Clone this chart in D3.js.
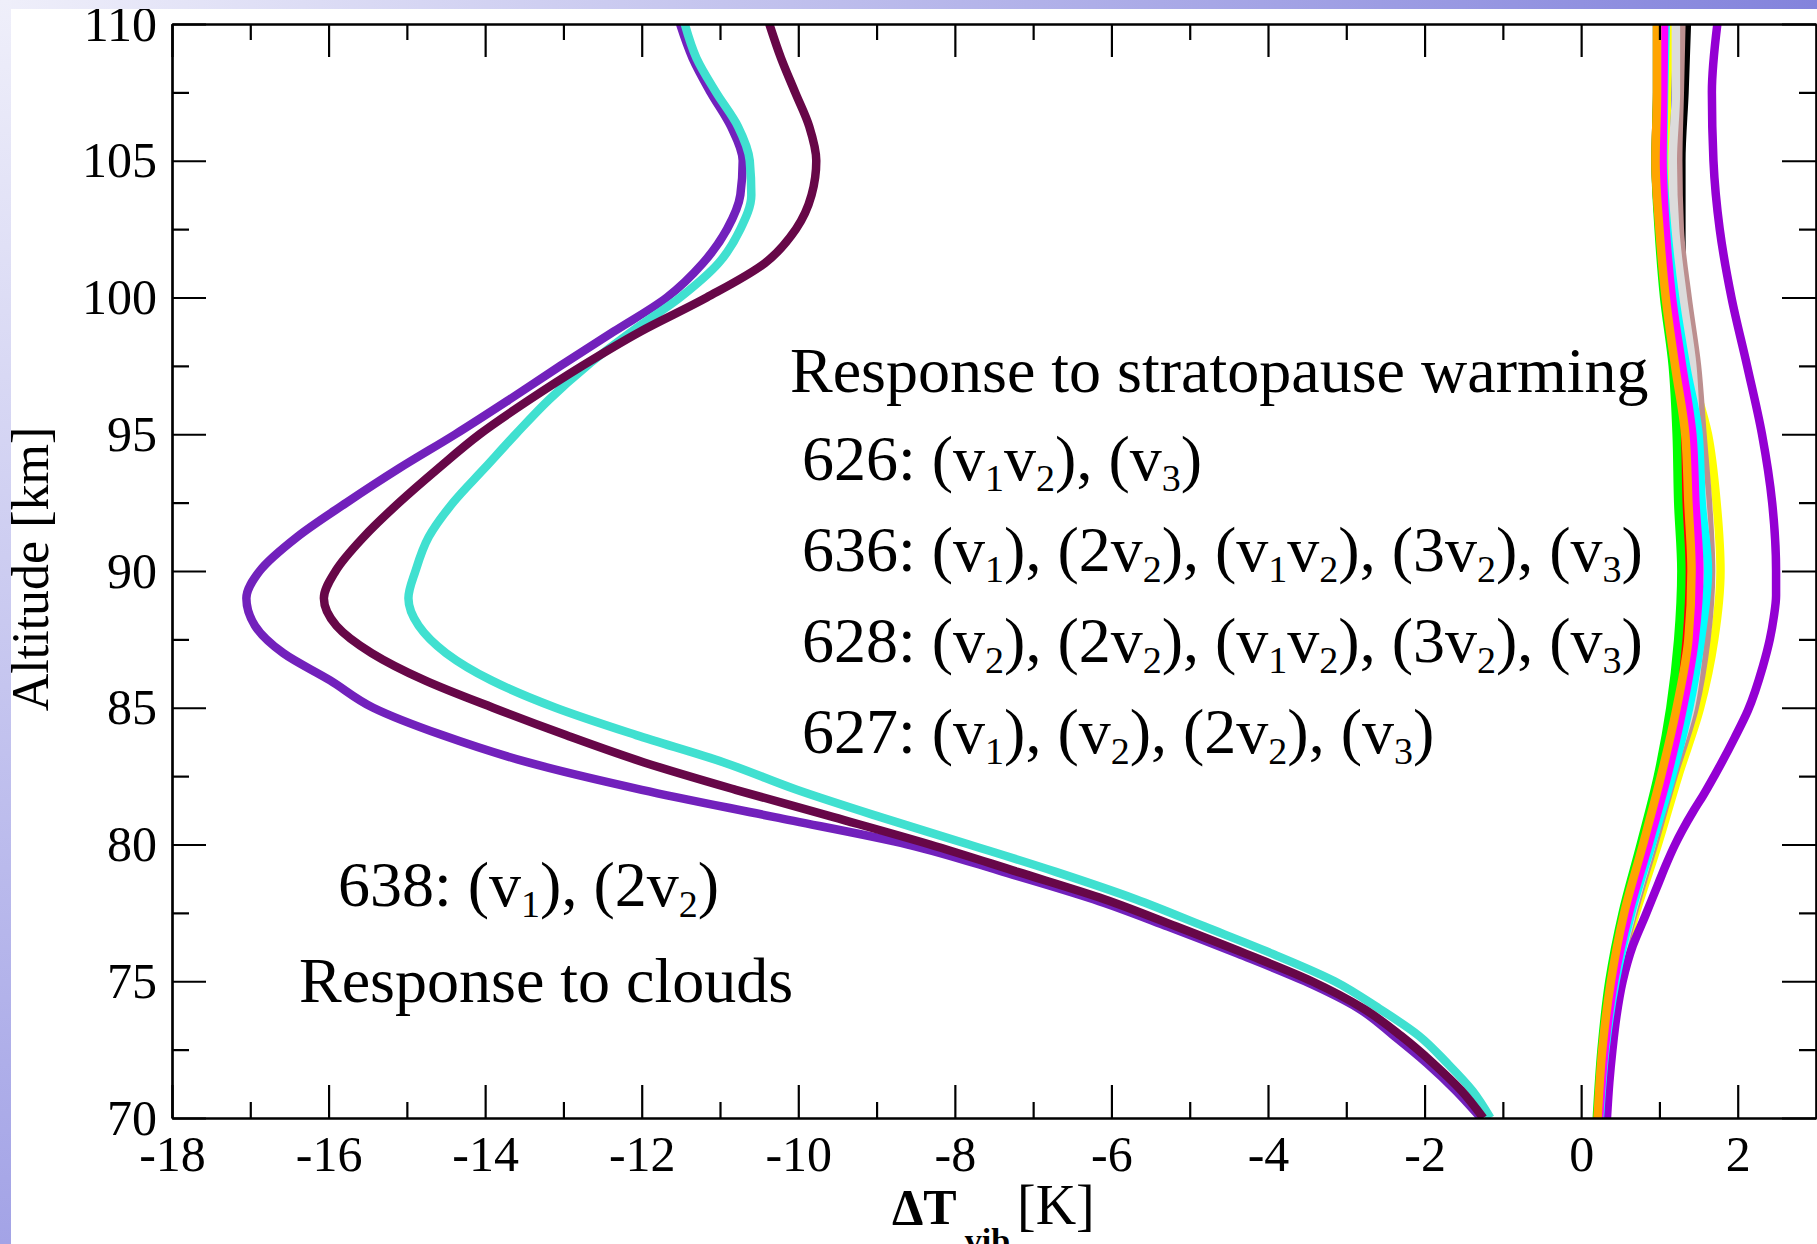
<!DOCTYPE html>
<html>
<head>
<meta charset="utf-8">
<script src="https://cdn.jsdelivr.net/npm/d3@7"></script>
<style>
  html, body { margin: 0; padding: 0; background: #fff; }
  svg { display: block; }
  text { font-family: "Liberation Serif", "Times New Roman", serif; fill: #000; }
</style>
</head>
<body>
<svg id="chart" width="1817" height="1244"></svg>
<script>
// ---- Response to clouds (638 bands): altitude grid in km and ΔT_vib in K ----
const altClouds = [70, 71, 72, 73, 74, 75, 76, 77, 78, 79, 80, 81, 82, 83, 84, 85, 86, 87, 88, 89,
                   90, 91.25, 92.5, 93.75, 95, 96.25, 97.5, 98.75, 100, 101.25, 102.5, 103.75,
                   105, 106.25, 107.5, 108.75, 110];
const dtIndigo = [-1.28, -1.60, -1.97, -2.39, -2.84, -3.53, -4.38, -5.28, -6.23, -7.38, -8.60, -10.30,
                  -12.00, -13.45, -14.55, -15.43, -15.98, -16.58, -16.94, -17.05, -16.88, -16.40,
                  -15.77, -15.10, -14.38, -13.70, -13.04, -12.36, -11.68, -11.22, -10.91, -10.74,
                  -10.71, -10.86, -11.12, -11.35, -11.51];
const dtMaroon = [-1.25, -1.53, -1.89, -2.30, -2.78, -3.44, -4.28, -5.17, -6.09, -7.20, -8.32, -9.55,
                  -10.80, -11.97, -12.97, -13.90, -14.77, -15.45, -15.90, -16.06, -15.91, -15.55,
                  -15.10, -14.60, -14.07, -13.44, -12.76, -12.02, -11.17, -10.43, -10.03, -9.83,
                  -9.77, -9.86, -10.04, -10.22, -10.37];
const dtTurquoise = [-1.16, -1.39, -1.71, -2.07, -2.58, -3.15, -3.94, -4.81, -5.69, -6.71, -7.82, -8.95,
                     -10.02, -10.95, -12.07, -13.10, -13.92, -14.50, -14.85, -14.98, -14.89, -14.72,
                     -14.41, -14.01, -13.61, -13.19, -12.70, -12.13, -11.51, -11.02, -10.74, -10.60,
                     -10.62, -10.77, -11.05, -11.30, -11.45];

// ---- Response to stratopause warming (626, 636, 628, 627 bands) ----
const altWarming = [70, 72.5, 75, 77.5, 80, 82.5, 85, 87.5, 90, 92.5, 95, 97.5, 100, 102.5, 105, 107.5, 110];
const dtBlack   = [0.24, 0.32, 0.46, 0.68, 0.95, 1.15, 1.42, 1.55, 1.62, 1.58, 1.50, 1.40, 1.30, 1.28, 1.28, 1.32, 1.35];
const dtRed     = [0.21, 0.27, 0.37, 0.54, 0.78, 1.00, 1.19, 1.33, 1.37, 1.33, 1.29, 1.19, 1.07, 1.00, 0.95, 0.97, 0.97];
const dtGreen   = [0.20, 0.26, 0.36, 0.53, 0.76, 0.98, 1.14, 1.24, 1.28, 1.24, 1.22, 1.17, 1.06, 0.99, 0.95, 0.97, 0.97];
const dtBlue    = [0.22, 0.29, 0.41, 0.60, 0.85, 1.08, 1.27, 1.42, 1.48, 1.44, 1.38, 1.28, 1.18, 1.12, 1.12, 1.14, 1.15];
const dtYellow  = [0.24, 0.32, 0.46, 0.70, 0.98, 1.24, 1.52, 1.70, 1.78, 1.73, 1.62, 1.38, 1.20, 1.10, 1.08, 1.10, 1.12];
const dtBrown   = [0.24, 0.32, 0.45, 0.67, 0.93, 1.18, 1.45, 1.60, 1.66, 1.62, 1.55, 1.48, 1.36, 1.26, 1.24, 1.26, 1.28];
const dtGrey    = [0.24, 0.31, 0.44, 0.65, 0.90, 1.14, 1.40, 1.52, 1.60, 1.55, 1.47, 1.42, 1.30, 1.20, 1.17, 1.21, 1.21];
const dtCyan    = [0.24, 0.31, 0.44, 0.64, 0.90, 1.16, 1.38, 1.53, 1.62, 1.54, 1.50, 1.34, 1.20, 1.10, 1.05, 1.06, 1.08];
const dtMagenta = [0.23, 0.30, 0.42, 0.61, 0.86, 1.10, 1.30, 1.45, 1.51, 1.46, 1.42, 1.29, 1.16, 1.08, 1.04, 1.05, 1.06];
const dtOrange  = [0.21, 0.27, 0.38, 0.55, 0.79, 1.02, 1.22, 1.37, 1.41, 1.37, 1.33, 1.20, 1.08, 1.00, 0.95, 0.97, 0.97];
const altViolet = [70, 71.3, 72.5, 73.7, 75, 76.3, 77.4, 78.6, 79.3, 80, 80.5, 81.25, 81.8, 82.5, 83.9,
                   84.9, 86.5, 87.5, 88.3, 89.1, 90, 92.5, 95, 97.5, 100, 102.5, 105, 107.5, 110];
const dtViolet  = [0.33, 0.36, 0.40, 0.45, 0.53, 0.66, 0.82, 0.99, 1.09, 1.20, 1.29, 1.44, 1.56, 1.70, 1.96,
                   2.13, 2.32, 2.41, 2.46, 2.49, 2.49, 2.44, 2.31, 2.12, 1.92, 1.77, 1.69, 1.67, 1.74];

// ---- axes ----
const xMajorTicks = [-18, -16, -14, -12, -10, -8, -6, -4, -2, 0, 2];
const xMinorTicks = [-17, -15, -13, -11, -9, -7, -5, -3, -1, 1];
const yMajorTicks = [70, 75, 80, 85, 90, 95, 100, 105, 110];
const yMinorTicks = [72.5, 77.5, 82.5, 87.5, 92.5, 97.5, 102.5, 107.5];

// ---- annotation texts ("_d" marks a subscript digit) ----
const warmingTitle = "Response to stratopause warming";
const warmingBands = ["626: (v_1v_2), (v_3)",
                      "636: (v_1), (2v_2), (v_1v_2), (3v_2), (v_3)",
                      "628: (v_2), (2v_2), (v_1v_2), (3v_2), (v_3)",
                      "627: (v_1), (v_2), (2v_2), (v_3)"];
const cloudBands = "638: (v_1), (2v_2)";
const cloudTitle = "Response to clouds";

// series in drawing order (later ones on top)
const series = [
  { alt: altWarming, dt: dtBlack,   color: "#000000" },
  { alt: altWarming, dt: dtRed,     color: "#ff0000" },
  { alt: altWarming, dt: dtGreen,   color: "#00ff00" },
  { alt: altWarming, dt: dtBlue,    color: "#0000ff" },
  { alt: altWarming, dt: dtYellow,  color: "#ffff00" },
  { alt: altWarming, dt: dtBrown,   color: "#bc8f8f" },
  { alt: altWarming, dt: dtGrey,    color: "#dcdcdc" },
  { alt: altViolet,  dt: dtViolet,  color: "#9400d3" },
  { alt: altWarming, dt: dtCyan,    color: "#00ffff" },
  { alt: altWarming, dt: dtMagenta, color: "#ff00ff" },
  { alt: altWarming, dt: dtOrange,  color: "#ffa500" },
  { alt: altClouds,  dt: dtIndigo,    color: "#7221bc" },
  { alt: altClouds,  dt: dtTurquoise, color: "#40e0d0" },
  { alt: altClouds,  dt: dtMaroon,    color: "#670748" }
];

const W = 1817, H = 1244;
const plot = { left: 172, right: 1816, top: 24, bottom: 1118 };

const svg = d3.select("#chart");

// slide page behind the chart
svg.append("rect").attr("width", W).attr("height", H).attr("fill", "#ffffff");

const x = d3.scaleLinear().domain([-18, 3]).range([plot.left, plot.right]);
const y = d3.scaleLinear().domain([70, 110]).range([plot.bottom, plot.top]);

const defs = svg.append("defs");
defs.append("clipPath").attr("id", "plotClip")
  .append("rect")
  .attr("x", plot.left).attr("y", plot.top)
  .attr("width", plot.right - plot.left).attr("height", plot.bottom - plot.top);

// profiles: ΔT as a smooth function of altitude
const line = d3.line()
  .x(d => x(d[0]))
  .y(d => y(d[1]))
  .curve(d3.curveMonotoneY);

const gLines = svg.append("g").attr("clip-path", "url(#plotClip)");
series.forEach(s => {
  gLines.append("path")
    .datum(s.dt.map((v, i) => [v, s.alt[i]]))
    .attr("d", line)
    .attr("fill", "none")
    .attr("stroke", s.color)
    .attr("stroke-width", 8.5)
    .attr("stroke-linejoin", "round");
});

// axes with inward ticks on all four sides
const majorX = 33, minorX = 16, majorY = 34, minorY = 17;
const tickFont = 50;

function styleAxis(g) {
  g.select(".domain").attr("stroke", "#000").attr("stroke-width", 2.2);
  g.selectAll(".tick line").attr("stroke", "#000").attr("stroke-width", 2.2);
  g.selectAll(".tick text")
    .attr("font-family", "Liberation Serif, Times New Roman, serif")
    .attr("font-size", tickFont)
    .attr("fill", "#000");
}

svg.append("g").attr("transform", `translate(0,${plot.bottom})`)
  .call(d3.axisBottom(x).tickValues(xMajorTicks).tickSize(-majorX).tickSizeOuter(0)
        .tickPadding(17).tickFormat(d => String(d)))
  .call(styleAxis);
svg.append("g").attr("transform", `translate(0,${plot.bottom})`)
  .call(d3.axisBottom(x).tickValues(xMinorTicks).tickSize(-minorX).tickSizeOuter(0).tickFormat(""))
  .call(styleAxis);

svg.append("g").attr("transform", `translate(0,${plot.top})`)
  .call(d3.axisTop(x).tickValues(xMajorTicks).tickSize(-majorX).tickSizeOuter(0).tickFormat(""))
  .call(styleAxis);
svg.append("g").attr("transform", `translate(0,${plot.top})`)
  .call(d3.axisTop(x).tickValues(xMinorTicks).tickSize(-minorX).tickSizeOuter(0).tickFormat(""))
  .call(styleAxis);

svg.append("g").attr("transform", `translate(${plot.left},0)`)
  .call(d3.axisLeft(y).tickValues(yMajorTicks).tickSize(-majorY).tickSizeOuter(0)
        .tickPadding(15).tickFormat(d => String(d)))
  .call(styleAxis);
svg.append("g").attr("transform", `translate(${plot.left},0)`)
  .call(d3.axisLeft(y).tickValues(yMinorTicks).tickSize(-minorY).tickSizeOuter(0).tickFormat(""))
  .call(styleAxis);

svg.append("g").attr("transform", `translate(${plot.right},0)`)
  .call(d3.axisRight(y).tickValues(yMajorTicks).tickSize(-majorY).tickSizeOuter(0).tickFormat(""))
  .call(styleAxis);
svg.append("g").attr("transform", `translate(${plot.right},0)`)
  .call(d3.axisRight(y).tickValues(yMinorTicks).tickSize(-minorY).tickSizeOuter(0).tickFormat(""))
  .call(styleAxis);

// axis titles
svg.append("text")
  .attr("transform", "translate(48,569) rotate(-90)")
  .attr("text-anchor", "middle")
  .attr("font-size", 52)
  .text("Altitude [km]");

const xTitle = svg.append("text").attr("x", 892).attr("y", 1224).attr("font-size", 50);
xTitle.append("tspan").attr("font-weight", "bold").text("\u0394T");
xTitle.append("tspan").attr("font-weight", "bold").attr("font-size", 34)
  .attr("dx", 8).attr("dy", 28).text("vib");
xTitle.append("tspan").attr("x", 1017).attr("dy", -28).attr("font-size", 56).text("[K]");

// annotation with subscript digits
function label(str, xPos, yPos, size) {
  const t = svg.append("text").attr("x", xPos).attr("y", yPos).attr("font-size", size);
  const parts = str.split(/_(\d)/);
  let lowered = false;
  parts.forEach((p, i) => {
    if (p === "") return;
    const isSub = i % 2 === 1;
    const ts = t.append("tspan").text(p);
    if (isSub) {
      ts.attr("font-size", Math.round(size * 0.6)).attr("dy", lowered ? 0 : 11);
      lowered = true;
    } else if (lowered) {
      ts.attr("dy", -11);
      lowered = false;
    }
  });
  return t;
}

const noteSize = 64;
label(warmingTitle, 790, 392, noteSize);
warmingBands.forEach((s, i) => label(s, 802, 480 + i * 91, noteSize));
label(cloudBands, 338, 906, noteSize);
label(cloudTitle, 299, 1002, noteSize);

// slide frame strips over the chart edges
const gTop = defs.append("linearGradient").attr("id", "frameTop")
  .attr("x1", 0).attr("y1", 0).attr("x2", 1).attr("y2", 0);
gTop.append("stop").attr("offset", 0).attr("stop-color", "#efeffa");
gTop.append("stop").attr("offset", 1).attr("stop-color", "#8383dc");
const gLeft = defs.append("linearGradient").attr("id", "frameLeft")
  .attr("x1", 0).attr("y1", 0).attr("x2", 0).attr("y2", 1);
gLeft.append("stop").attr("offset", 0).attr("stop-color", "#efeffa");
gLeft.append("stop").attr("offset", 1).attr("stop-color", "#a3a3e6");

svg.append("rect").attr("x", 0).attr("y", 0).attr("width", W).attr("height", 9).attr("fill", "url(#frameTop)");
svg.append("rect").attr("x", 0).attr("y", 0).attr("width", 11).attr("height", H).attr("fill", "url(#frameLeft)");
</script>
</body>
</html>
